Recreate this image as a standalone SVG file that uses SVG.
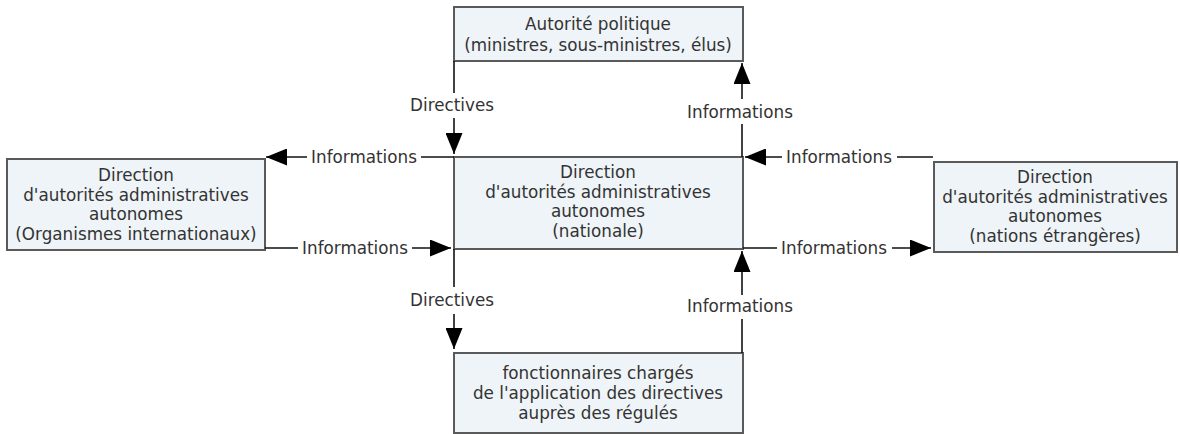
<svg xmlns="http://www.w3.org/2000/svg" width="1180" height="434" viewBox="0 0 1180 434">
  <style>
    .box { fill: #eef4f7; stroke: #5a5a5a; stroke-width: 2; }
    .txt { font-family: "DejaVu Sans", Verdana, sans-serif; font-size: 16.8px; fill: #333; text-anchor: middle; }
    .ln { stroke: #111; stroke-width: 1.6; fill: none; }
    .arr { marker-end: url(#head); }
  </style>
  <defs>
    <marker id="head" markerUnits="userSpaceOnUse" markerWidth="23" markerHeight="17" refX="21" refY="8.5" orient="auto">
      <path d="M0,0 L21,8.5 L0,17 Z" fill="#000"/>
    </marker>
  </defs>

  <rect width="1180" height="434" fill="#fff"/>

  <g id="autorite-politique">
    <rect class="box" x="454" y="7" width="289" height="54"/>
    <text class="txt" x="598" y="30">Autorité politique</text>
    <text class="txt" x="598" y="51">(ministres, sous-ministres, élus)</text>
  </g>

  <g id="direction-internationale">
    <rect class="box" x="7" y="159" width="258" height="91"/>
    <text class="txt" x="136" y="181">Direction</text>
    <text class="txt" x="136" y="200.5">d'autorités administratives</text>
    <text class="txt" x="136" y="220">autonomes</text>
    <text class="txt" x="136" y="239.5">(Organismes internationaux)</text>
  </g>

  <g id="direction-nationale">
    <rect class="box" x="454" y="157" width="289" height="92"/>
    <text class="txt" x="598" y="178">Direction</text>
    <text class="txt" x="598" y="197.5">d'autorités administratives</text>
    <text class="txt" x="598" y="217">autonomes</text>
    <text class="txt" x="598" y="236.5">(nationale)</text>
  </g>

  <g id="direction-etrangere">
    <rect class="box" x="934" y="162" width="243" height="90"/>
    <text class="txt" x="1055" y="183">Direction</text>
    <text class="txt" x="1055" y="202.5">d'autorités administratives</text>
    <text class="txt" x="1055" y="222">autonomes</text>
    <text class="txt" x="1055" y="241.5">(nations étrangères)</text>
  </g>

  <g id="fonctionnaires">
    <rect class="box" x="454" y="353" width="289" height="80"/>
    <text class="txt" x="598" y="379">fonctionnaires chargés</text>
    <text class="txt" x="598" y="399">de l'application des directives</text>
    <text class="txt" x="598" y="419">auprès des régulés</text>
  </g>

  <g id="connectors">
    <!-- directives: political authority to national direction -->
    <line class="ln" x1="454" y1="61" x2="454" y2="93"/>
    <line class="ln arr" x1="454" y1="118" x2="454" y2="154"/>
    <text class="txt" x="452" y="111">Directives</text>

    <!-- informations: national direction to political authority -->
    <line class="ln" x1="742" y1="157" x2="742" y2="124"/>
    <line class="ln arr" x1="742" y1="99" x2="742" y2="63"/>
    <text class="txt" x="740" y="118">Informations</text>

    <!-- informations: national to international -->
    <line class="ln" x1="454" y1="157" x2="421" y2="157"/>
    <line class="ln arr" x1="307" y1="157" x2="266" y2="157"/>
    <text class="txt" x="364" y="163">Informations</text>

    <!-- informations: international to national -->
    <line class="ln" x1="265" y1="248" x2="298" y2="248"/>
    <line class="ln arr" x1="412" y1="248" x2="451" y2="248"/>
    <text class="txt" x="355" y="254">Informations</text>

    <!-- informations: foreign to national -->
    <line class="ln" x1="933" y1="157" x2="897" y2="157"/>
    <line class="ln arr" x1="782" y1="157" x2="745" y2="157"/>
    <text class="txt" x="839" y="163">Informations</text>

    <!-- informations: national to foreign -->
    <line class="ln" x1="743" y1="248" x2="777" y2="248"/>
    <line class="ln arr" x1="892" y1="248" x2="931" y2="248"/>
    <text class="txt" x="834" y="254">Informations</text>

    <!-- directives: national direction to officials -->
    <line class="ln" x1="454" y1="249" x2="454" y2="287"/>
    <line class="ln arr" x1="454" y1="314" x2="454" y2="349"/>
    <text class="txt" x="452" y="306">Directives</text>

    <!-- informations: officials to national direction -->
    <line class="ln" x1="742" y1="353" x2="742" y2="319"/>
    <line class="ln arr" x1="742" y1="295" x2="742" y2="251"/>
    <text class="txt" x="740" y="312">Informations</text>
  </g>
</svg>
